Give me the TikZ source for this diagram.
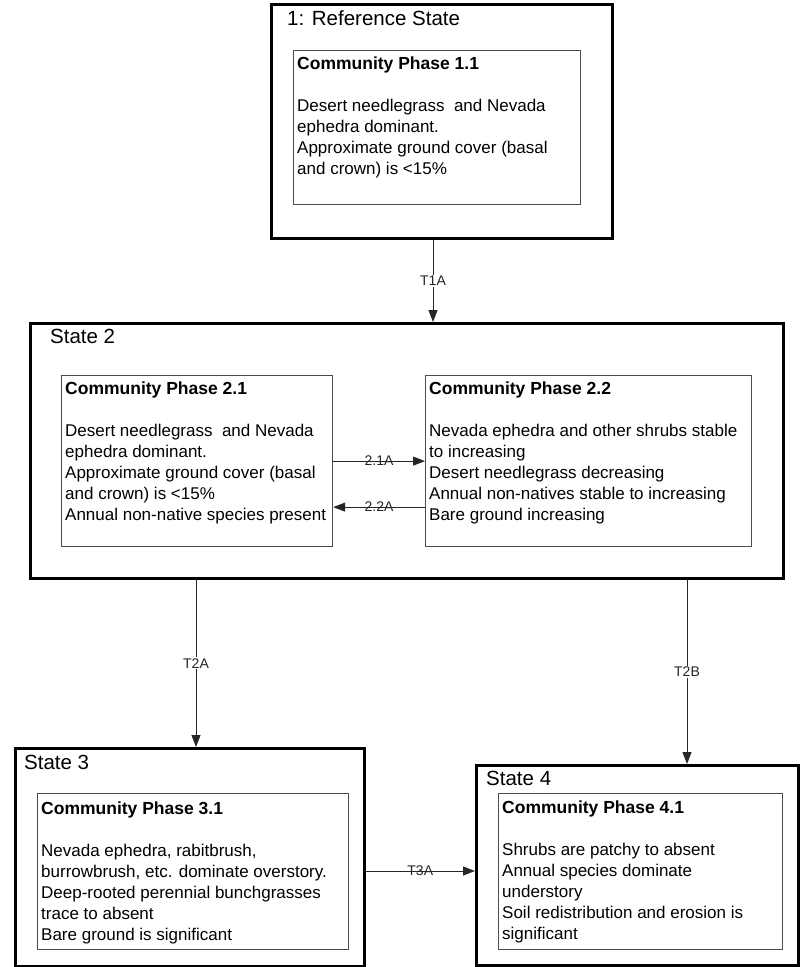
\documentclass[tikz,border=0pt]{standalone}
\usepackage{fontspec}
\setmainfont{Liberation Sans}
\usetikzlibrary{calc,arrows.meta}
\begin{document}
\begin{tikzpicture}[x=1pt,y=-1pt,
 statebox/.style={draw=black, line width=2.5pt, anchor=north west, inner sep=0pt},
 phasebox/.style={draw=black!70, line width=1.2pt, anchor=north west, inner sep=0pt},
 phasetext/.style={anchor=north west, inner sep=0pt, align=left, font=\fontsize{17}{21}\selectfont},
 statetitle/.style={anchor=base west, inner sep=0pt, font=\fontsize{20.5}{24}\selectfont},
 conn/.style={draw=black!85, line width=1pt, -{Triangle[length=12pt,width=9pt]}},
 lbl/.style={font=\fontsize{14}{16}\selectfont, inner sep=1pt, text=black!85}
]
\useasboundingbox (0,0) rectangle (800,967);

% State 1
\node[statebox, minimum width=341pt, minimum height=234pt] (s1) at (270,3) {};
\node[statetitle] (s1t) at ($(s1.north west)+(17,22)$) {1: Reference State};
\node[phasebox, minimum width=287pt, minimum height=154pt] (p11) at (293,50) {};
\node[phasetext] (p11t) at ($(p11.north west)+(4,7)$) {{\fontsize{17.5}{21}\selectfont\textbf{Community Phase 1.1}}\\[21pt]
Desert needlegrass\ \ and Nevada\\ephedra dominant.\\Approximate ground cover (basal\\and crown) is <15\%};

% State 2
\node[statebox, minimum width=753pt, minimum height=255pt] (s2) at (29,322) {};
\node[statetitle] (s2t) at ($(s2.north west)+(21,21)$) {State 2};
\node[phasebox, minimum width=271pt, minimum height=171pt] (p21) at (61,375) {};
\node[phasetext] (p21t) at ($(p21.north west)+(4,7)$) {{\fontsize{17.5}{21}\selectfont\textbf{Community Phase 2.1}}\\[21pt]
Desert needlegrass\ \ and Nevada\\ephedra dominant.\\Approximate ground cover (basal\\and crown) is <15\%\\Annual non-native species present};
\node[phasebox, minimum width=326pt, minimum height=171pt] (p22) at (425,375) {};
\node[phasetext] (p22t) at ($(p22.north west)+(4,7)$) {{\fontsize{17.5}{21}\selectfont\textbf{Community Phase 2.2}}\\[21pt]
Nevada ephedra and other shrubs stable\\to increasing\\Desert needlegrass decreasing\\Annual non-natives stable to increasing\\Bare ground increasing};

% State 3
\node[statebox, minimum width=349pt, minimum height=218pt] (s3) at (14,747) {};
\node[statetitle] (s3t) at ($(s3.north west)+(10,22)$) {State 3};
\node[phasebox, minimum width=311pt, minimum height=156pt] (p31) at (37,793) {};
\node[phasetext] (p31t) at ($(p31.north west)+(4,9)$) {{\fontsize{17.5}{21}\selectfont\textbf{Community Phase 3.1}}\\[21pt]
Nevada ephedra, rabitbrush,\\burrowbrush, etc. dominate overstory.\\Deep-rooted perennial bunchgrasses\\trace to absent\\Bare ground is significant};

% State 4
\node[statebox, minimum width=322pt, minimum height=200pt] (s4) at (475,764) {};
\node[statetitle] (s4t) at ($(s4.north west)+(11,21)$) {State 4};
\node[phasebox, minimum width=284pt, minimum height=156pt] (p41) at (498,793) {};
\node[phasetext] (p41t) at ($(p41.north west)+(4,8)$) {{\fontsize{17.5}{21}\selectfont\textbf{Community Phase 4.1}}\\[21pt]
Shrubs are patchy to absent\\Annual species dominate\\understory\\Soil redistribution and erosion is\\significant};

% connectors
\coordinate (t1x) at (433,0);
\coordinate (t2ax) at (196,0);
\coordinate (t2bx) at (687,0);
\coordinate (t3y) at (0,871);
\draw[conn] (s1.south -| t1x) -- node[lbl,fill=white] (l1) {T1A} (s2.north -| t1x);
\draw[conn] (p21.east) -- node[lbl] (l21) {2.1A} (p22.west);
\draw[conn] ([yshift=-46pt]p22.west) -- node[lbl] (l22) {2.2A} ([yshift=-46pt]p21.east);
\draw[conn] (s2.south -| t2ax) -- node[lbl,fill=white] (l2a) {T2A} (s3.north -| t2ax);
\draw[conn] (s2.south -| t2bx) -- node[lbl,fill=white] (l2b) {T2B} (s4.north -| t2bx);
\draw[conn] (s3.east |- t3y) -- node[lbl] (l3) {T3A} (s4.west |- t3y);
\end{tikzpicture}
\end{document}
